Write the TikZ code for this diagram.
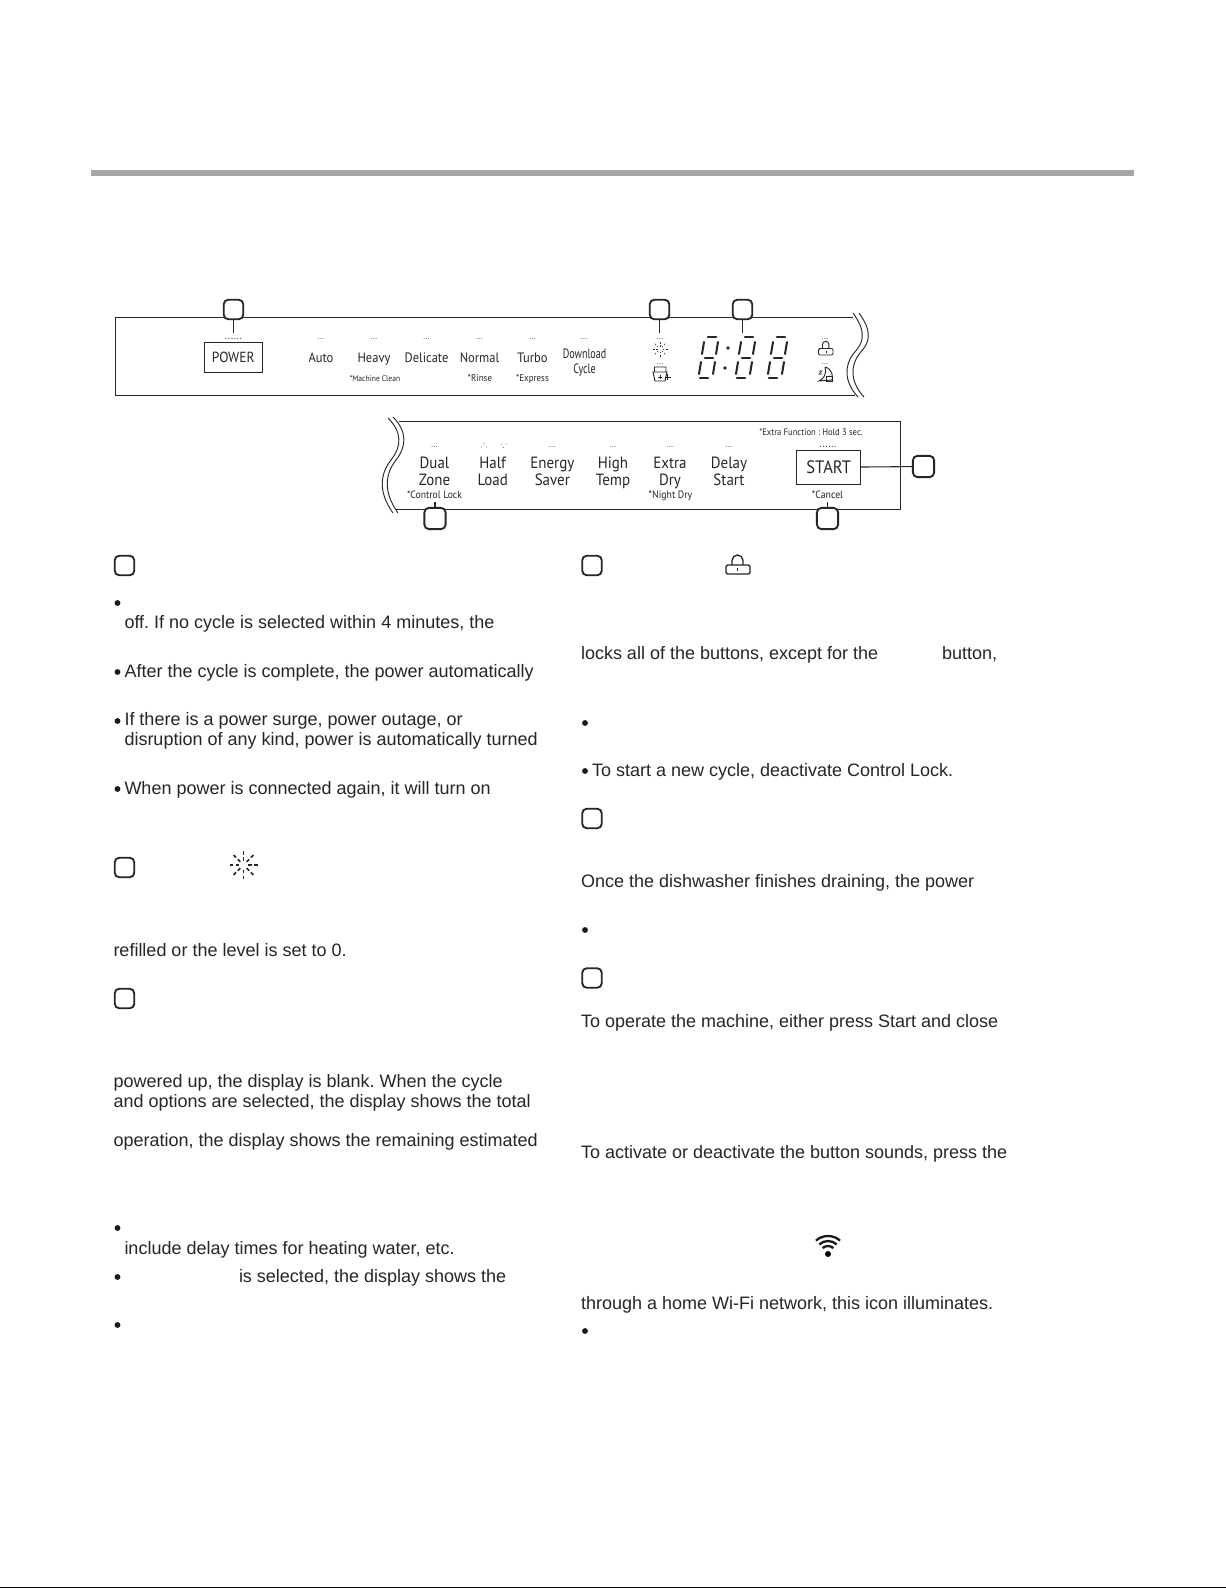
\documentclass[tikz,border=0pt]{standalone}
\usepackage{fontspec}
\usetikzlibrary{calc}
\setmainfont{Liberation Sans}
\newfontfamily\lcd[FakeStretch=.92]{PT Sans}
\newfontfamily\lcdn[FakeStretch=.74]{PT Sans}
\frenchspacing
\begin{document}
\begin{tikzpicture}[x=0.75pt,y=-0.75pt,
  every node/.style={inner sep=0pt,outer sep=0pt},
  body/.style={anchor=base west,font=\fontsize{13.5}{16}\selectfont,text=black!85},
  numbox/.style={draw=black!85,line width=1.4pt,rounded corners=3.5pt,minimum width=14.7pt,minimum height=14.7pt,fill=white},
  numboxb/.style={numbox,minimum width=16pt,minimum height=16pt},
  panel/.style={line width=0.7pt,draw=black!85},
  lab/.style={anchor=base,font=\fontsize{10.2}{12}\selectfont\lcd,text=black!85},
  labn/.style={anchor=base,font=\fontsize{10.2}{12}\selectfont\lcdn,text=black!85},
  labb/.style={anchor=base,font=\fontsize{12.2}{14}\selectfont\lcd,text=black!85},
  smalll/.style={anchor=base,font=\fontsize{#1}{7}\selectfont\lcd,text=black!85},
  dots/.style={anchor=base,font=\fontsize{6}{6}\selectfont,text=black!75},
  dotsb/.style={anchor=base,font=\fontsize{8}{6}\selectfont,text=black!75},
  lead/.style={line width=0.8pt,draw=black!85},
  bul/.style={circle,fill=black!90,minimum size=4.4pt},
  seg/.style={line width=2pt,draw=black!85,line cap=round},
  icon/.style={line width=.7pt,draw=black!85}]
\useasboundingbox (0,0) rectangle (1226,1588);
\fill[white] (0,0) rectangle (1226,1588);
\fill[black!35] (91,170) rectangle (1134,176);
\fill[black] (0,1586.5) rectangle (1226,1588);
% top panel
\draw[panel] (853,317) -- (115,317) -- (115,395) -- (855,395);
\draw[panel] (853,313) .. controls (869,335) and (861,345) .. (854,353) .. controls (844,365) and (844,382) .. (858,397);
\draw[panel] (859,313) .. controls (875,335) and (867,345) .. (860,353) .. controls (850,365) and (850,382) .. (864,397);
\node[draw=black!85,line width=.7pt,minimum width=43.5pt,minimum height=22.5pt,font=\fontsize{11}{13}\selectfont\lcd,text=black!85] (power) at (233.3,357.3) {POWER};
\node[numbox] (n1) at (233.5,309.5) {};
\draw[lead] (n1) -- (233.5,333);
\node[dotsb] (d1) at (233.5,339) {......};
\foreach \nm/\x/\t in {auto/321/Auto,heavy/374/Heavy,delicate/426.5/Delicate,normal/479.5/Normal,turbo/532.5/Turbo}
  {\node[lab] (\nm) at (\x,362.7) {\t}; \node[dots] (d\nm) at (\x,339) {...};}
\node[labn] (dl1) at (584.5,358) {Download};
\node[labn] (dl2) at (584.5,373) {Cycle};
\node[dots] (ddl) at (584,339) {...};
\node[smalll=6.2] (s1) at (375,381) {*Machine Clean};
\node[smalll=7.3] (s2) at (480,381) {*Rinse};
\node[smalll=7.3] (s3) at (532.5,381) {*Express};
\node[numbox] (n2) at (659.5,309.5) {};
\draw[lead] (n2) -- (659.5,333);
\node[numbox] (n3) at (742.5,309.5) {};
\draw[lead] (n3) -- (742.5,333);
% rinse icon
\foreach \a in {0,45,...,315}{
  \draw[line width=.5pt,black!80] ($(660,349)+(\a:2.5)$) -- ($(660,349)+(\a:4)$);
  \draw[line width=.5pt,black!80] ($(660,349)+(\a:5.5)$) -- ($(660,349)+(\a:7.5)$);}
\node[dots] (dr1) at (660,339) {...};
\node[dots] (dr2) at (660,364.5) {...};
\draw[icon] (654.5,367) rectangle (666,372) (653,372) -- (655,381) -- (665,381) -- (667,372) -- cycle;
\draw[icon] (664.5,377) -- (671,377) (667.7,374) -- (667.7,380);
\draw[icon] (658,377) -- (662,377) (660,375) -- (660,379);
% seven segment
\foreach \ox in {0,37,69}{
  \draw[seg] (\ox+708,337) -- (\ox+716,337) (\ox+705,358) -- (\ox+713,358) (\ox+700,378) -- (\ox+708,378);
  \draw[seg,line width=1.5pt] (\ox+704,342) -- (\ox+702,354) (\ox+718,342) -- (\ox+716,354) (\ox+701,362) -- (\ox+699,374) (\ox+715,362) -- (\ox+713,374);
}
\fill[black!85] (728,348) circle (1.9) (725,368) circle (1.9);
% lock and moon icons
\draw[icon,rounded corners=1pt] (818.5,348.5) rectangle (833,355);
\draw[icon] (822.5,348.5) -- (822.5,344.5) arc (180:360:3.2) -- (828.9,348.5);
\fill[black!85] (825.5,351) rectangle (826.2,353);
\node[dots] (dl3) at (825,339) {...};
\node[dots] (dl4) at (825,364.5) {...};
\draw[icon] (825,367) .. controls (833,369) and (833,378) .. (832,380) -- (819,381) .. controls (824,379) and (827,373) .. (825,367);
\draw[line width=.5pt,black!85] (826,376) rectangle (832.5,381.5);
\draw[line width=.5pt,black!85] (819,371) -- (822,371) -- (819,374) -- (822,374);
% bottom panel
\draw[panel] (399,421) -- (900,421) -- (900,509) -- (396,509);
\draw[panel] (388,418) .. controls (402,432) and (402,446) .. (391,460) .. controls (380,474) and (378,492) .. (393,513);
\draw[panel] (393,417) .. controls (407,431) and (407,446) .. (396,460) .. controls (385,474) and (383,492) .. (398,513);
\foreach \nm/\x/\a/\b in {dz/434.5/Dual/Zone,hl/492.7/Half/Load,es/552.3/Energy/Saver,ht/613/High/Temp,ed/670/Extra/Dry,ds/729/Delay/Start}
  {\node[labb] (\nm a) at (\x,468.7) {\a}; \node[labb] (\nm b) at (\x,485) {\b};}
\foreach \x in {434.5,552.3,613,670,729} {\node[dots] at (\x,447) {...};}
\fill[black!70] (484,443.5) circle (.5) (481.5,447) circle (.5) (486.5,447) circle (.5);
\fill[black!70] (503.5,447.5) circle (.5) (501,444) circle (.5) (506,444) circle (.5);
\node[smalll=7.9] (s4) at (434.5,498) {*Control Lock};
\node[smalll=8] (s5) at (670.5,498) {*Night Dry};
\node[smalll=8] (s6) at (827.5,498) {*Cancel};
\node[smalll=7] (s7) at (811,435) {*Extra Function : Hold 3 sec.};
\node[dotsb] (d8) at (828,447) {......};
\node[draw=black!85,line width=.7pt,minimum width=48pt,minimum height=25pt,font=\fontsize{13.5}{15}\selectfont\lcd,text=black!85] (start) at (828.7,467.3) {START};
\node[numboxb] (n4) at (923.5,466.5) {};
\draw[lead] (start) -- (n4);
\node[numboxb] (n5) at (435,518.5) {};
\draw[lead] (n5) -- (435,502);
\node[numboxb] (n6) at (827.5,518.5) {};
\draw[lead] (n6) -- (827.5,502);
% section number boxes
\node[numbox] (b1) at (124.5,565.5) {};
\node[numbox] (b2) at (124.5,867.5) {};
\node[numbox] (b3) at (124.5,998.5) {};
\node[numbox] (b4) at (592,565.5) {};
\node[numbox] (b5) at (592,818.5) {};
\node[numbox] (b6) at (592,978) {};
% left text
\node[bul] at (117.5,603) {};
\node[body] (t1) at (124.5,628.5) {off. If no cycle is selected within 4 minutes, the};
\node[bul] at (117.5,672) {};
\node[body] (t2) at (124.5,677) {After the cycle is complete, the power automatically};
\node[bul] at (117.5,721) {};
\node[body] (t3) at (124.5,725) {If there is a power surge, power outage, or};
\node[body] (t4) at (124.5,745) {disruption of any kind, power is automatically turned};
\node[bul] at (117.5,789) {};
\node[body] (t5) at (124.5,794) {When power is connected again, it will turn on};
\node[body] (t6) at (113.5,956) {refilled or the level is set to 0.};
\node[body] (t7) at (113.5,1087) {powered up, the display is blank. When the cycle};
\node[body] (t8) at (113.5,1107) {and options are selected, the display shows the total};
\node[body] (t9) at (113.5,1146.5) {operation, the display shows the remaining estimated};
\node[bul] at (117.5,1228) {};
\node[body] (t10) at (124.5,1254) {include delay times for heating water, etc.};
\node[bul] at (117.5,1277) {};
\node[body] (t11) at (239,1282) {is selected, the display shows the};
\node[bul] at (117.5,1325) {};
% right text
\node[body] (r1) at (581,659.5) {locks all of the buttons, except for the};
\node[body] (r2) at (942,659.5) {button,};
\node[bul] at (585,723) {};
\node[bul] at (585,771) {};
\node[body] (r3) at (592,776.5) {To start a new cycle, deactivate Control Lock.};
\node[body] (r4) at (581,887.5) {Once the dishwasher finishes draining, the power};
\node[bul] at (585,930) {};
\node[body] (r5) at (581,1027) {To operate the machine, either press Start and close};
\node[body] (r6) at (581,1158) {To activate or deactivate the button sounds, press the};
\node[body] (r7) at (581,1309) {through a home Wi-Fi network, this icon illuminates.};
\node[bul] at (585,1331) {};
% inline icons
\foreach \a in {0,45,...,315}{
  \draw[line width=1.1pt,black!85] ($(243.5,865)+(\a:4.5)$) -- ($(243.5,865)+(\a:8)$);
  \draw[line width=1.1pt,black!85] ($(243.5,865)+(\a:10.5)$) -- ($(243.5,865)+(\a:14)$);}
\draw[line width=1pt,black!85,rounded corners=1.5pt] (726,565) rectangle (750,574);
\draw[line width=1pt,black!85] (732,565) -- (732,560.5) arc (180:360:5.5) -- (743,565);
\fill[black!85] (737.2,568) rectangle (738.2,571);
\foreach \r in {8,13,18}
  \draw[line width=1.7pt,black!90] ($(828,1254)+(-132:\r)$) arc (-132:-48:\r);
\fill[black] (828,1254) circle (3);
\end{tikzpicture}
\end{document}
